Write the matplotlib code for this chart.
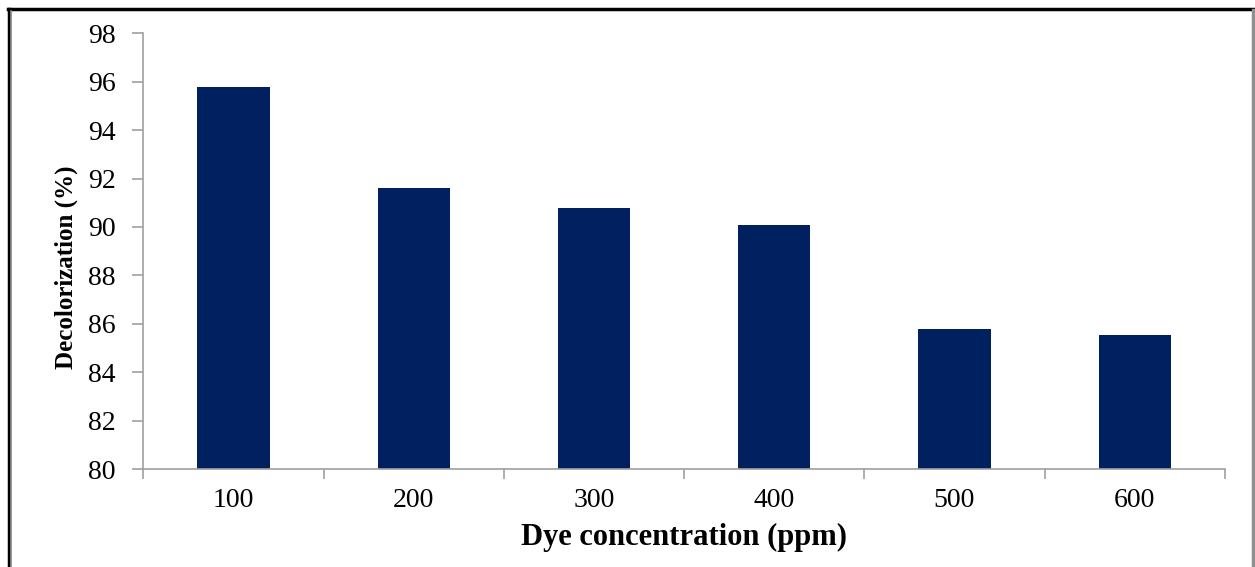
import matplotlib.pyplot as plt
from matplotlib.lines import Line2D
import numpy as np

# dye concentration vs. decolorization
concentrations = ['100', '200', '300', '400', '500', '600']
decolorization = [95.8, 91.6, 90.8, 90.1, 85.8, 85.55]

plt.rcParams['font.family'] = ['Liberation Serif', 'DejaVu Serif']

fig = plt.figure(figsize=(12.55, 5.67), dpi=100)
ax = fig.add_axes([0.1142, 0.1728, 0.976 - 0.1142, 0.9413 - 0.1728])

x = np.arange(len(concentrations))
ax.bar(x, decolorization, width=0.4, color='#002060', zorder=2)

ax.set_ylim(80, 98)
ax.set_yticks(np.arange(80, 99, 2))
ax.set_xlim(-0.5, len(concentrations) - 0.5)

# category labels centred, tick marks between categories
ax.set_xticks(x)
ax.set_xticklabels(concentrations)
ax.set_xticks(np.arange(-0.5, len(concentrations)), minor=True)
ax.tick_params(axis='x', which='major', length=0, pad=14, labelsize=20)
ax.tick_params(axis='x', which='minor', length=7, width=1.2, color='#a0a0a0', direction='out')
ax.tick_params(axis='y', length=8, width=1.2, color='#a0a0a0', direction='out', pad=12, labelsize=20)

for side in ['top', 'right']:
    ax.spines[side].set_visible(False)
for side in ['left', 'bottom']:
    ax.spines[side].set_color('#a0a0a0')
    ax.spines[side].set_linewidth(1.2)

ax.set_xlabel('Dye concentration (ppm)', fontsize=22, fontweight='bold', labelpad=7)
ax.set_ylabel('Decolorization (%)', fontsize=18, fontweight='bold')
ax.yaxis.set_label_coords(-0.0604, 0.463)

# outer frame around the figure
W, H = 1255, 567
fig.add_artist(Line2D([8 / W, 1254 / W], [1 - 9 / H, 1 - 9 / H], color='black', lw=2.5, transform=fig.transFigure))
fig.add_artist(Line2D([8.5 / W, 8.5 / W], [0, 1 - 9 / H], color='black', lw=2.5, transform=fig.transFigure))
fig.add_artist(Line2D([11 / W, 11 / W], [0, 1 - 10.5 / H], color='#909090', lw=1.2, transform=fig.transFigure))
fig.add_artist(Line2D([1253 / W, 1253 / W], [0, 1 - 10 / H], color='#909090', lw=2.5, transform=fig.transFigure))

fig.savefig('out.png', dpi=100)
